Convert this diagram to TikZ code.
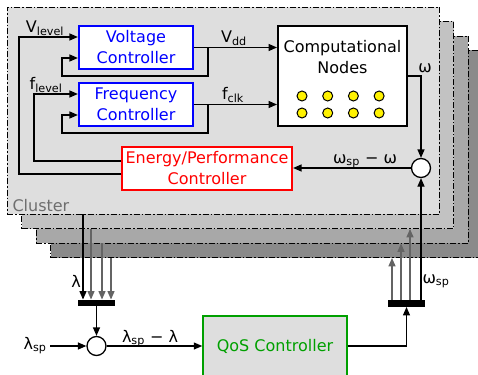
\documentclass[tikz,border=0pt]{standalone}
\usepackage{fontspec}
\setmainfont{DejaVu Sans}
\usetikzlibrary{arrows.meta, positioning, calc}
\definecolor{ctrlblue}{RGB}{0, 0, 255}
\definecolor{ctrlred}{RGB}{255, 0, 0}
\definecolor{qosgreen}{RGB}{0, 160, 0}
\definecolor{clusterA}{RGB}{222, 222, 222}
\definecolor{clusterB}{RGB}{194, 194, 194}
\definecolor{clusterC}{RGB}{168, 168, 168}
\definecolor{clusterD}{RGB}{138, 138, 138}
\definecolor{wiregray}{RGB}{100, 100, 100}
\definecolor{labelgray}{RGB}{110, 110, 110}

\begin{document}
\begin{tikzpicture}[x=1pt, y=-1pt, font=\fontsize{16}{21}\selectfont,
  cluster/.style={draw, line width=0.8pt, dash pattern=on 6pt off 2pt on 1.5pt off 2pt, minimum width=432pt, minimum height=207pt, inner sep=0pt},
  ctrl/.style={line width=2.2pt, fill=white, minimum width=114pt, minimum height=43pt, inner sep=0pt, align=center},
  sumnode/.style={circle, draw, line width=1.3pt, fill=white, minimum size=19pt, inner sep=0pt},
  bar/.style={fill=black, minimum width=37pt, minimum height=6.5pt, inner sep=0pt},
  dot/.style={circle, draw, line width=1pt, fill=yellow, minimum size=10pt, inner sep=0pt},
  arr/.style={line width=1.3pt, -{Triangle[length=8.5pt, width=7pt]}},
  garr/.style={arr, draw=wiregray}]
  \useasboundingbox (0,0) rectangle (478,374);

  % Cluster stack, back to front
  \foreach \i/\tone in {3/clusterD, 2/clusterC, 1/clusterB, 0/clusterA}
    \node[cluster, fill=\tone] (cl\i) at ({223+14.5*\i}, {110.5+14.5*\i}) {};
  \node[anchor=base west, text=labelgray] (cllbl) at (9,211) {Cluster};

  % Controllers and nodes
  \node[ctrl, draw=ctrlblue, text=ctrlblue] (volt) at (136,47.5) {Voltage\\Controller};
  \node[ctrl, draw=ctrlblue, text=ctrlblue] (freq) at (136,104.5) {Frequency\\Controller};
  \node[ctrl, draw=ctrlred, text=ctrlred, minimum width=170pt] (epc) at (207,168.5) {Energy/Performance\\Controller};
  \node[draw, line width=2pt, fill=white, minimum width=129pt, minimum height=100pt] (comp) at (342.5,76) {};
  \node[anchor=north, align=center] (comptxt) at ([yshift=-12pt]comp.north) {Computational\\Nodes};
  \foreach \col in {0,...,3}
    \foreach \row in {0,1}
      \node[dot] (d\row\col) at ({302+25.7*\col}, {96+17*\row}) {};
  \node[sumnode] (sum1) at (421,168) {};

  % Cluster wiring
  \draw[arr] ([yshift=-5.5pt]epc.west) -- ++(-102,0) |- ([yshift=10.5pt]volt.west);
  \draw[arr] ([yshift=7.5pt]epc.west) -- ++(-87,0) |- ([yshift=10.5pt]freq.west);
  \draw[arr] (volt.east) -- (volt.east -| comp.west);
  \draw[arr] (volt.east) -- ++(14,0) -- ++(0,28.5) -| ([xshift=-16pt, yshift=-10.5pt]volt.west) -- ([yshift=-10.5pt]volt.west);
  \draw[arr] (freq.east) -- (freq.east -| comp.west);
  \draw[arr] (freq.east) -- ++(14,0) -- ++(0,28.5) -| ([xshift=-16pt, yshift=-10.5pt]freq.west) -- ([yshift=-10.5pt]freq.west);
  \draw[arr] (comp.east) -| (sum1.north);
  \draw[arr] (sum1.west) -- (sum1.west -| epc.east);

  \node[anchor=base] (vlvl) at (45,33) {V\textsubscript{level}};
  \node[anchor=base] (flvl) at (46,90) {f\textsubscript{level}};
  \node[anchor=base] (vdd) at (234,43) {V\textsubscript{dd}};
  \node[anchor=base] (fclk) at (233,100) {f\textsubscript{clk}};
  \node[anchor=base] (wout) at (425,73) {ω};
  \node[anchor=base] (werr) at (365,163) {ω\textsubscript{sp} − ω};

  % QoS loop
  \node[bar] (barL) at (96.5,303) {};
  \node[bar] (barR) at (406.5,303.5) {};
  \node[sumnode] (sum2) at (96.5,346) {};
  \node[draw=qosgreen, line width=1.5pt, fill=clusterA, text=qosgreen, minimum width=144pt, minimum height=60pt] (qos) at (275,346) {QoS Controller};
  \node[anchor=base east] (lsp) at (50,349) {λ\textsubscript{sp}};

  \draw[arr] ([xshift=-13.5pt]barL.north |- cl0.south) -- ([xshift=-13.5pt]barL.north);
  \foreach \dx/\k in {-5.5/1, 5.5/2, 14.5/3}
    \draw[garr] ([xshift=\dx pt]barL.north |- cl\k.south) -- ([xshift=\dx pt]barL.north);
  \draw[arr] (barL.south) -- (sum2.north);
  \draw[arr] (lsp.east |- sum2.west) -- (sum2.west);
  \draw[arr] (sum2.east) -- (qos.west);
  \draw[arr] (qos.east) -| (barR.south);
  \foreach \dx/\k in {-14.5/3, -5.5/2, 3.5/1}
    \draw[garr] ([xshift=\dx pt]barR.north) -- ([xshift=\dx pt]barR.north |- cl\k.south);
  \draw[arr] (sum1.south |- barR.north) -- (sum1.south);

  \node[anchor=base] (lmeas) at (76,287) {λ};
  \node[anchor=base] (lerr) at (150,342) {λ\textsubscript{sp} − λ};
  \node[anchor=base west] (wsp) at (419,283) {ω\textsubscript{sp}};
\end{tikzpicture}
\end{document}
